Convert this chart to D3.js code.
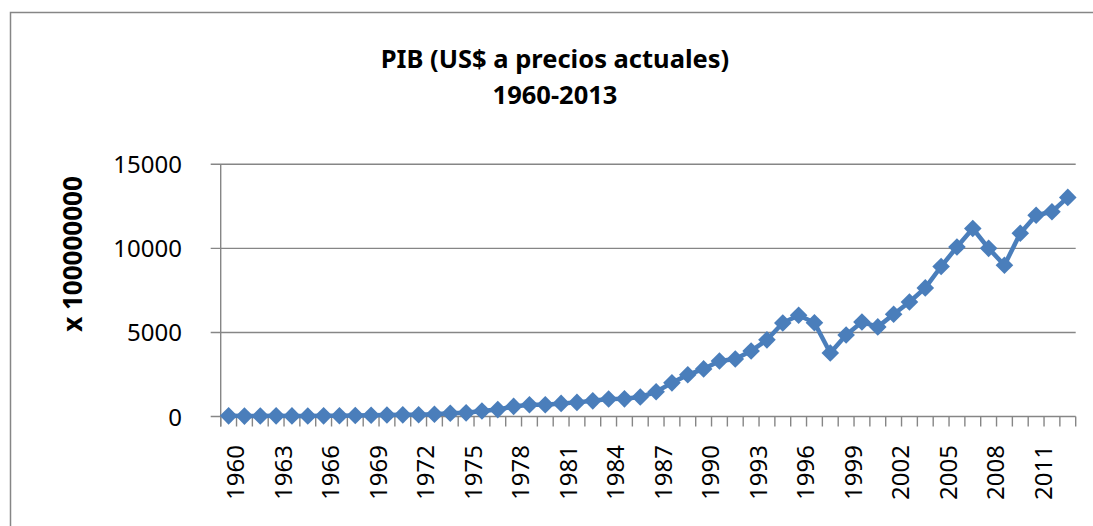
<!DOCTYPE html>
<html>
<head>
<meta charset="utf-8">
<script src="https://cdn.jsdelivr.net/npm/d3@7"></script>
<style>
  body { margin: 0; background: #fff; }
  text { font-family: "Noto Sans", "Open Sans", sans-serif; fill: #000; }
</style>
</head>
<body>
<div id="chart"></div>
<script>
// PIB (US$ a precios actuales), en unidades de 100000000 US$
const years = d3.range(1960, 2014);
const gdp = [
  40, 24, 28, 40, 35, 31, 39, 47, 59, 74,
  90, 99, 108, 137, 192, 217, 330, 410, 600, 700,
  700, 780, 840, 930, 1040, 1050, 1160, 1470, 2000, 2480,
  2830, 3300, 3420, 3900, 4560, 5560, 6020, 5580, 3780, 4850,
  5620, 5330, 6080, 6810, 7650, 8920, 10080, 11180, 10000, 9000,
  10900, 11970, 12180, 13030
];
const yTicks = [0, 5000, 10000, 15000];
const titleLines = ["PIB (US$ a precios actuales)", "1960-2013"];
const yTitle = "x 100000000";

(function() {
  var width = 1093, height = 526;
  var left = 220.7, right = 1075.7, top = 164.3, bottom = 416.5;
  var blue = "#4a7ebb", grey = "#868686";

  var svg = d3.select("#chart").append("svg")
    .attr("width", width)
    .attr("height", height);

  // outer chart border (runs off the right and bottom edges)
  svg.append("rect")
    .attr("x", 10.5).attr("y", 12.5)
    .attr("width", 1100).attr("height", 600)
    .attr("fill", "none")
    .attr("stroke", grey)
    .attr("stroke-width", 1.5);

  var x = d3.scaleBand().domain(years).range([left, right]).padding(0);
  var y = d3.scaleLinear().domain([0, 15000]).range([bottom, top]);

  // horizontal gridlines + small ticks to the left
  svg.selectAll(".grid")
    .data(yTicks)
    .enter().append("line")
    .attr("class", "grid")
    .attr("x1", left - 10).attr("x2", right)
    .attr("y1", function(d) { return y(d); })
    .attr("y2", function(d) { return y(d); })
    .attr("stroke", grey)
    .attr("stroke-width", 1.4);

  svg.selectAll(".ylab")
    .data(yTicks)
    .enter().append("text")
    .attr("class", "ylab")
    .attr("x", 182)
    .attr("y", function(d) { return y(d) + 9; })
    .attr("text-anchor", "end")
    .style("font-size", "24px")
    .text(function(d) { return d; });

  // y axis line
  svg.append("line")
    .attr("x1", left).attr("x2", left)
    .attr("y1", top).attr("y2", bottom + 10)
    .attr("stroke", grey)
    .attr("stroke-width", 1.4);

  // x axis ticks on every category boundary
  var bounds = years.map(function(d) { return x(d); }).concat([right]);
  svg.selectAll(".xtick")
    .data(bounds)
    .enter().append("line")
    .attr("class", "xtick")
    .attr("x1", function(d) { return d; })
    .attr("x2", function(d) { return d; })
    .attr("y1", bottom).attr("y2", bottom + 10)
    .attr("stroke", grey)
    .attr("stroke-width", 1.4);

  // x labels, every 3 years, rotated
  svg.selectAll(".xlab")
    .data(years.filter(function(d) { return (d - 1960) % 3 === 0; }))
    .enter().append("text")
    .attr("class", "xlab")
    .attr("text-anchor", "end")
    .attr("transform", function(d) {
      return "translate(" + (x(d) + x.bandwidth() / 2 + 15.5) + ",445) rotate(-90)";
    })
    .style("font-size", "24px")
    .text(function(d) { return d; });

  // the series
  var pts = years.map(function(d, i) { return { year: d, value: gdp[i] }; });
  var line = d3.line()
    .x(function(d) { return x(d.year) + x.bandwidth() / 2; })
    .y(function(d) { return y(d.value); });

  svg.append("path")
    .datum(pts)
    .attr("d", line)
    .attr("fill", "none")
    .attr("stroke", blue)
    .attr("stroke-width", 4.5)
    .attr("stroke-linejoin", "round");

  // diamond markers
  svg.selectAll(".mark")
    .data(pts)
    .enter().append("path")
    .attr("class", "mark")
    .attr("d", "M0,-8.8L8.8,0L0,8.8L-8.8,0Z")
    .attr("transform", function(d) {
      return "translate(" + (x(d.year) + x.bandwidth() / 2) + "," + y(d.value) + ")";
    })
    .attr("fill", blue);

  // titles
  svg.selectAll(".title")
    .data(titleLines)
    .enter().append("text")
    .attr("class", "title")
    .attr("x", 555)
    .attr("y", function(d, i) { return 67.5 + i * 36.5; })
    .attr("text-anchor", "middle")
    .style("font-size", "25.5px")
    .style("font-weight", "bold")
    .text(function(d) { return d; });

  svg.append("text")
    .attr("transform", "translate(82,254) rotate(-90)")
    .attr("text-anchor", "middle")
    .style("font-size", "26px")
    .style("font-weight", "bold")
    .text(yTitle);
})();
</script>
</body>
</html>
